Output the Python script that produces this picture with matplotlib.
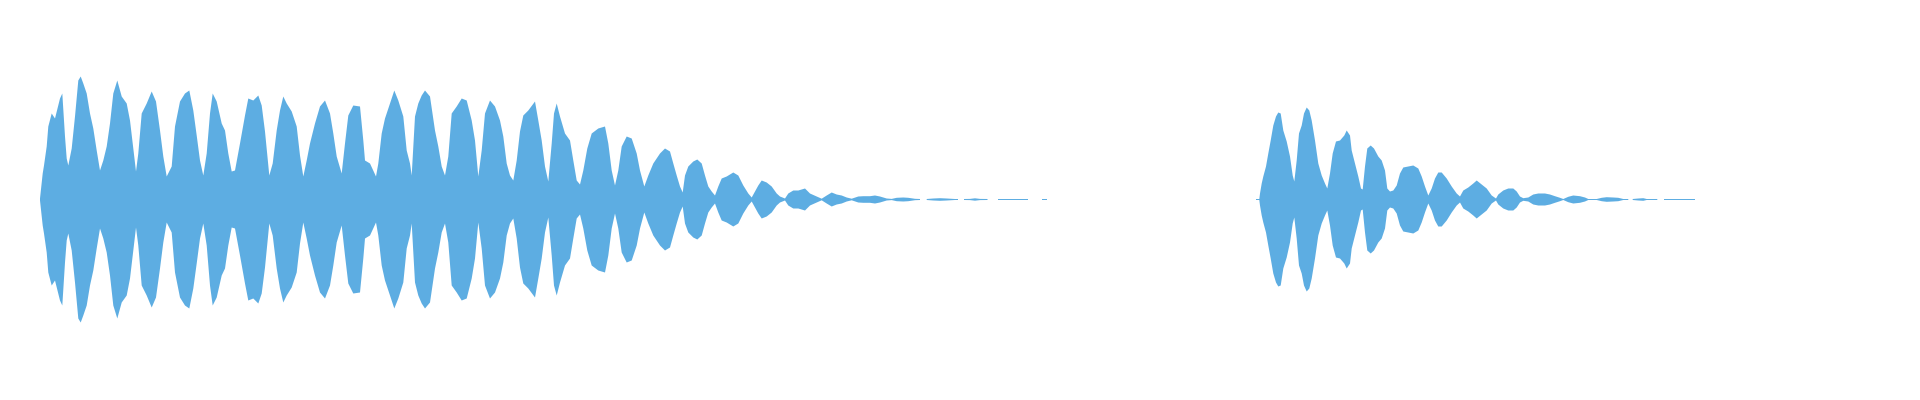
import numpy as np
import matplotlib
matplotlib.use("Agg")
import matplotlib.pyplot as plt

# Envelope of the waveform (peak amplitude).
# time: horizontal position units, amp: peak amplitude units (0 = silence gap)
seg1_time = [40, 42.7, 44, 46.7, 48.3, 51.7, 55, 60, 62.3, 65, 66.7, 68.3, 71.7, 75, 78.3, 80.7,
             83.3, 86.7, 90, 93.3, 96.7, 100, 103.3, 106.7, 110, 113.3, 117.3, 121.7, 126.7, 130,
             133.3, 136, 138.3, 141.7, 146.7, 151.7, 156, 160, 163.3, 166.7, 171.7, 175, 180, 185,
             189.3, 193.3, 196.7, 200, 203.3, 206.7, 210, 212.7, 216.7, 221.7, 225, 228.3, 231.7,
             235, 240, 245, 248.3, 253.3, 258.3, 261.7, 265, 269.3, 272.7, 276.7, 280, 283.3,
             286.7, 291.7, 296.7, 300, 303.3, 306.7, 310, 315, 320, 325, 330, 333.3, 336.7, 341.7,
             345, 348.3, 353.3, 360, 363.3, 365, 370, 376, 378.3, 381.7, 385, 390, 394.3, 398.3,
             403.3, 406.7, 410, 411.7, 415, 418.3, 421.7, 425, 430, 435, 438.3, 441.7, 445, 448.3,
             451.7, 456.7, 461.7, 466.7, 471.7, 475, 478.3, 481.7, 485, 490, 495, 500, 503.3,
             506.7, 510, 513.3, 516.7, 520, 523.3, 528.3, 535, 538.3, 541.7, 545, 548.3, 551.7,
             554, 556.7, 560, 565, 570, 573.3, 576.7, 580, 583.3, 587.3, 591.7, 598.3, 605, 608.3,
             611.7, 615, 618.3, 621.7, 626.7, 631.7, 636.7, 640, 644.3, 648.3, 653.3, 660, 665,
             670, 673.3, 676.7, 680, 682.7, 685, 688.3, 693.3, 697.3, 701.7, 705, 708.3, 711.7,
             715, 718.3, 721.7, 726.7, 733.3, 738.3, 743.3, 748.3, 751.7, 755, 758.3, 761.7,
             766.7, 771.7, 776.7, 780, 785, 788.3, 793.3, 798.3, 805, 810, 816.7, 821.7, 826.7,
             831.7, 836.7, 841.7, 846.7, 851.7, 858.3, 863.3, 870, 875, 880, 886.7, 891.7, 896.7,
             903.3, 908.3, 915, 920, 920.5, 925.5, 926.7, 933.3, 940, 946.7, 955, 958,
             958.5, 963.5, 964, 970, 975, 980, 987.5, 988, 997.5, 998, 1010, 1020, 1027.5, 1028,
             1041.5, 1042, 1047]
seg1_amp = [1, 26, 34, 53, 73, 86, 81, 101, 106, 63, 41, 34, 51, 83, 119, 123,
            116, 106, 86, 71, 49, 29, 39, 53, 76, 106, 119, 103, 96, 79,
            51, 28, 46, 86, 96, 108, 98, 69, 43, 23, 33, 73, 98, 106,
            109, 89, 64, 39, 24, 46, 86, 106, 98, 76, 69, 46, 28,
            29, 56, 84, 101, 99, 104, 94, 68, 24, 36, 69, 89, 103,
            96, 88, 73, 44, 23, 39, 56, 76, 93, 99, 86, 66, 43, 26,
            56, 84, 94, 93, 59, 39, 36, 23, 36, 66, 81, 96, 109, 99,
            83, 49, 36, 24, 83, 96, 104, 109, 103, 69, 53, 33, 24, 43,
            86, 93, 101, 99, 79, 59, 23, 49, 86, 99, 93, 79, 63,
            36, 24, 19, 39, 68, 84, 89, 98, 79, 59, 33, 18, 56,
            86, 96, 83, 66, 59, 39, 19, 15, 29, 51, 66, 71, 73, 56,
            29, 14, 29, 53, 63, 61, 46, 29, 13, 24, 36, 46, 51,
            48, 36, 24, 13, 7, 24, 33, 38, 40, 36, 24, 13, 8,
            4, 13, 21, 23, 27, 24, 14, 6, 2, 8, 14, 19,
            17, 13, 6, 3, 1, 6, 9, 9, 11, 6, 3, 0.8, 4,
            7, 5, 4, 2, 0.8, 3, 3.3, 3.3, 4, 3, 1, 0.6, 1.7,
            2, 1.7, 0.7, 0.5, 0, 0, 0.5, 1, 1.3, 1, 0.5, 0.5,
            0, 0, 0.5, 0.6, 1.2, 0.6, 0.5, 0, 0, 0.5, 0.5, 0.5, 0.5, 0,
            0, 0.5, 0.5]

seg2_time = [1256, 1259.3, 1260, 1261.7, 1263.3, 1266, 1268.3, 1270.7, 1273.3, 1276, 1278.3,
             1280.7, 1283.3, 1286.7, 1290, 1292.7, 1294.3, 1296.7, 1299, 1301.7, 1304, 1306.7,
             1309.3, 1311.7, 1315, 1318.3, 1321.7, 1325, 1327.3, 1330, 1332.7, 1336, 1340,
             1344.3, 1346.7, 1350, 1351.7, 1355, 1358.3, 1361, 1362.7, 1365, 1367.3, 1370.7,
             1374, 1378.3, 1381.7, 1385, 1387.3, 1390, 1393.3, 1396.7, 1400, 1403.3, 1408.3,
             1413.3, 1418.3, 1421.7, 1425, 1428.3, 1431.7, 1435, 1438.3, 1441.7, 1446.7, 1451.7,
             1456.7, 1460, 1463.3, 1468.3, 1473.3, 1476.7, 1481.7, 1486.7, 1491.7, 1496, 1498.3,
             1503.3, 1508.3, 1513.3, 1516.7, 1520, 1523.3, 1528.3, 1533.3, 1538.3, 1545, 1550,
             1555, 1560, 1563.3, 1568.3, 1573.3, 1580, 1585, 1588.3, 1596.7, 1601.7, 1606.7,
             1613.3, 1618.3, 1623.3, 1628.3, 1629, 1632, 1632.7, 1638.3, 1643.3, 1646.7, 1653.3,
             1657.3, 1658, 1663.5, 1664, 1680, 1695]
seg2_amp = [0.5, 0.5, 6, 16, 23, 33, 46, 59, 74, 83, 87,
            86, 69, 58, 43, 24, 18, 39, 66, 74, 86, 92,
            89, 79, 59, 36, 24, 16, 11, 26, 46, 58, 59,
            64, 69, 64, 49, 36, 23, 11, 10, 33, 51, 54,
            51, 43, 39, 29, 11, 8, 9, 14, 26, 32, 33,
            34, 31, 23, 13, 4, 11, 21, 27, 27, 21, 13,
            6, 3, 9, 12, 16, 19, 15, 11, 4, 1, 5,
            9, 11, 11, 8, 3, 1.3, 2, 5, 6, 6, 5,
            3.3, 1.7, 0.5, 2.7, 4, 3.3, 2, 0.5, 0.5, 1.7, 2.3,
            2, 1.7, 0.5, 0.5, 0, 0, 0.5, 1, 1.3, 0.5, 0.5,
            0.5, 0, 0, 0.5, 0.5, 0.5]

color = "#5DADE2"

fig = plt.figure(figsize=(19.2, 4), dpi=100)
ax = fig.add_axes([0, 0, 1, 1])
for t, a in ((seg1_time, seg1_amp), (seg2_time, seg2_amp)):
    t = np.asarray(t, dtype=float)
    a = np.asarray(a, dtype=float)
    ax.fill_between(t, -a, a, where=a > 0, color=color, linewidth=0, interpolate=False)
ax.set_xlim(0, 1920)
ax.set_ylim(-200.5, 199.5)
ax.axis("off")
fig.savefig("out.png", dpi=100, facecolor="white")
